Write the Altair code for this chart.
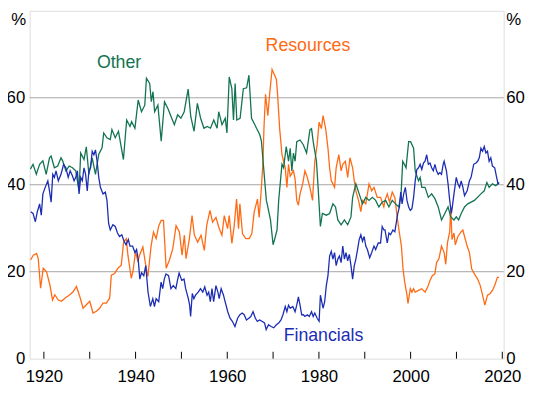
import altair as alt
import pandas as pd

# ---------------- data ----------------
other_year = [1917.06, 1917.63, 1918.35, 1919.07, 1919.78, 1920.50, 1921.22, 1921.58, 1922.29, 1923.01,
              1923.73, 1924.09, 1924.80, 1925.52, 1926.24, 1926.95, 1927.67, 1928.03, 1928.75, 1929.25,
              1929.82, 1930.54, 1931.25, 1931.97, 1932.69, 1933.05, 1933.76, 1934.48, 1934.84, 1935.56,
              1936.27, 1937.35, 1938.06, 1938.78, 1939.14, 1939.86, 1940.57, 1941.29, 1942.01, 1942.37,
              1943.08, 1943.44, 1943.80, 1944.16, 1944.87, 1945.59, 1946.31, 1947.03, 1947.74, 1948.46,
              1949.18, 1949.89, 1950.61, 1951.47, 1952.04, 1952.76, 1953.48, 1954.19, 1954.91, 1955.63,
              1956.34, 1957.06, 1957.78, 1958.14, 1958.85, 1959.57, 1959.93, 1960.43, 1961.00, 1961.36,
              1961.72, 1962.08, 1962.80, 1963.51, 1964.23, 1964.73, 1965.30, 1966.02, 1966.38, 1967.10,
              1967.46, 1967.81, 1968.53, 1968.71, 1969.43, 1970.00, 1970.50, 1970.86, 1971.22, 1971.94,
              1972.29, 1972.87, 1973.37, 1973.73, 1974.09, 1974.44, 1974.80, 1975.16, 1975.88, 1976.59,
              1977.31, 1978.03, 1978.39, 1978.75, 1979.46, 1979.82, 1980.32, 1980.75, 1981.61, 1982.33,
              1983.05, 1983.62, 1984.12, 1984.84, 1985.56, 1986.27, 1986.99, 1987.35, 1988.06, 1988.78,
              1989.50, 1990.22, 1990.93, 1991.65, 1992.37, 1993.08, 1993.80, 1994.55, 1995.27, 1995.99,
              1996.70, 1997.42, 1997.92, 1998.28, 1998.64, 1999.00, 1999.57, 2000.00, 2000.65, 2001.00,
              2001.72, 2002.08, 2002.44, 2003.15, 2003.87, 2004.59, 2005.30, 2006.02, 2006.74, 2007.46,
              2008.17, 2008.75, 2009.46, 2009.96, 2010.47, 2011.04, 2011.76, 2012.47, 2013.91, 2015.34,
              2016.06, 2016.63, 2017.13, 2017.85, 2018.57, 2019.28]
other_val = [43.6, 44.7, 42.4, 44.7, 45.5, 42.4, 46.2, 46.6, 43.9, 44.3,
             46.2, 45.5, 43.2, 44.3, 43.9, 43.2, 38.6, 47.3, 45.8, 48.7,
             42.4, 46.2, 42.4, 47.0, 48.5, 51.9, 50.8, 50.4, 52.7, 50.8,
             52.3, 45.8, 54.9, 53.4, 54.5, 53.0, 59.5, 56.8, 58.3, 64.5,
             63.3, 59.1, 61.4, 56.8, 58.3, 50.0, 59.1, 57.6, 55.7, 53.8,
             56.1, 55.3, 56.8, 62.0, 55.7, 52.3, 58.7, 55.3, 53.0, 53.4,
             53.0, 54.9, 53.0, 56.8, 53.8, 55.3, 51.9, 64.8, 62.1, 54.9,
             63.3, 54.9, 55.3, 62.1, 62.3, 65.2, 55.3, 53.8, 53.0, 51.5,
             50.0, 45.5, 36.4, 35.6, 31.9, 26.2, 28.1, 29.6, 36.4, 44.7,
             43.9, 48.8, 45.4, 48.4, 43.2, 47.3, 45.4, 49.9, 50.3, 49.2,
             47.3, 52.6, 52.9, 49.9, 45.4, 39.4, 30.4, 33.4, 33.0, 33.4,
             35.6, 34.9, 31.9, 30.8, 31.9, 30.8, 32.6, 37.1, 40.2, 37.9,
             35.6, 37.1, 36.4, 37.1, 36.4, 34.9, 36.0, 36.4, 34.9, 36.4,
             35.6, 34.9, 37.9, 45.4, 44.7, 43.9, 49.9, 49.9, 48.4, 43.2,
             40.9, 41.7, 39.4, 39.4, 37.1, 37.9, 36.8, 34.9, 31.9, 33.4,
             34.9, 32.6, 31.9, 32.6, 31.9, 33.4, 34.9, 35.6, 36.4, 37.9,
             38.6, 40.5, 39.4, 40.2, 39.8, 40.5]

res_year = [1917.10, 1917.68, 1918.41, 1918.77, 1919.28, 1919.86, 1920.58, 1921.30, 1921.88, 1922.39,
            1923.12, 1923.84, 1924.57, 1925.65, 1926.38, 1927.10, 1927.83, 1928.55, 1929.28, 1930.00,
            1930.72, 1931.45, 1932.17, 1932.90, 1933.62, 1934.35, 1934.71, 1935.43, 1936.16, 1936.88,
            1937.39, 1937.97, 1938.33, 1939.06, 1939.42, 1940.00, 1940.51, 1940.87, 1941.59, 1942.32,
            1942.68, 1943.41, 1943.91, 1944.49, 1945.07, 1945.58, 1946.09, 1946.67, 1947.39, 1948.12,
            1948.84, 1949.57, 1950.14, 1950.65, 1951.01, 1951.74, 1952.32, 1952.83, 1953.55, 1954.28,
            1955.00, 1955.51, 1956.23, 1956.81, 1957.54, 1958.26, 1958.84, 1959.35, 1960.07, 1960.43,
            1961.01, 1961.52, 1962.03, 1962.46, 1962.75, 1963.33, 1964.06, 1964.78, 1965.36, 1965.87,
            1966.59, 1966.96, 1967.40, 1967.80, 1968.00, 1968.35, 1968.85, 1969.28, 1969.78, 1970.29,
            1970.72, 1971.00, 1971.43, 1971.94, 1972.29, 1972.65, 1973.01, 1973.37, 1973.73, 1974.44,
            1974.80, 1975.16, 1975.52, 1975.88, 1976.45, 1976.95, 1977.46, 1978.03, 1978.60, 1979.10,
            1979.61, 1980.04, 1980.54, 1980.90, 1981.47, 1981.97, 1982.33, 1982.69, 1983.05, 1983.41,
            1983.76, 1984.34, 1984.84, 1985.20, 1985.77, 1986.27, 1986.77, 1987.35, 1987.71, 1988.06,
            1988.64, 1989.14, 1989.50, 1990.22, 1990.93, 1991.51, 1992.01, 1992.72, 1993.44, 1994.16,
            1994.41, 1994.91, 1995.41, 1995.99, 1996.56, 1997.06, 1997.56, 1997.99, 1998.35, 1998.71,
            1999.21, 1999.43, 1999.93, 2000.29, 2000.65, 2001.00, 2001.72, 2002.44, 2003.15, 2003.73,
            2004.23, 2004.73, 2005.30, 2005.66, 2006.16, 2006.74, 2007.31, 2007.67, 2008.03, 2008.53,
            2008.75, 2009.03, 2009.46, 2009.75, 2010.32, 2011.04, 2011.40, 2011.76, 2012.33, 2012.83,
            2013.33, 2013.91, 2014.62, 2015.20, 2015.70, 2016.20, 2016.77, 2017.35, 2017.85, 2018.35,
            2018.92, 2019.28]
res_val = [22.7, 23.8, 24.2, 23.0, 16.2, 20.8, 20.0, 17.0, 13.5, 14.7,
           13.5, 13.2, 13.9, 14.7, 15.4, 16.6, 14.3, 11.6, 12.4, 13.2,
           10.5, 10.9, 11.6, 12.8, 12.8, 13.9, 19.2, 19.6, 20.8, 21.5,
           26.8, 27.6, 23.8, 18.5, 20.0, 24.6, 22.3, 23.8, 25.7, 20.8,
           18.9, 26.1, 29.1, 27.6, 30.6, 31.8, 31.8, 20.8, 22.7, 25.3,
           30.6, 29.1, 23.8, 28.4, 23.0, 27.6, 32.9, 28.4, 26.8, 28.4,
           24.9, 30.6, 34.1, 31.4, 32.5, 29.9, 28.4, 32.9, 29.9, 32.9,
           26.5, 30.6, 36.7, 29.9, 35.6, 28.7, 27.6, 27.6, 28.7, 33.7,
           36.7, 32.5, 38.5, 45.4, 52.9, 60.8, 55.9, 61.2, 66.5, 65.3,
           64.2, 60.5, 52.9, 46.9, 45.4, 43.9, 39.4, 44.7, 42.0, 43.2,
           41.3, 36.4, 35.3, 37.9, 40.2, 43.2, 41.7, 39.4, 36.4, 45.4,
           49.2, 54.4, 52.9, 55.9, 52.9, 48.4, 43.9, 40.9, 40.2, 39.4,
           43.9, 46.9, 43.2, 44.7, 45.4, 41.7, 46.2, 43.9, 40.9, 38.6,
           36.4, 33.8, 36.4, 35.6, 40.2, 38.6, 39.4, 37.1, 37.1, 34.9,
           36.4, 37.9, 36.0, 38.3, 37.1, 32.6, 28.9, 25.9, 20.6, 17.6,
           14.6, 12.7, 16.1, 15.3, 16.1, 15.3, 15.7, 16.1, 15.3, 16.5,
           18.0, 19.1, 19.5, 22.1, 22.9, 25.9, 24.4, 21.7, 26.6, 29.2,
           34.9, 27.4, 28.9, 26.2, 28.1, 29.2, 29.6, 28.1, 25.9, 24.4,
           20.6, 19.5, 18.3, 16.8, 14.6, 12.3, 14.6, 15.0, 15.7, 16.8,
           18.7, 18.7]

fin_year = [1917.13, 1917.63, 1918.14, 1918.57, 1919.07, 1919.43, 1919.78, 1920.29, 1920.86, 1921.22,
            1921.58, 1921.94, 1922.29, 1922.65, 1923.15, 1923.73, 1924.30, 1924.80, 1925.30, 1925.73,
            1926.24, 1926.59, 1926.95, 1927.31, 1927.67, 1928.03, 1928.39, 1928.75, 1929.10, 1929.46,
            1929.82, 1930.18, 1930.54, 1930.90, 1931.25, 1931.61, 1931.97, 1932.33, 1932.90, 1933.41,
            1933.76, 1934.12, 1934.48, 1935.05, 1935.56, 1936.06, 1936.49, 1936.99, 1937.49, 1937.92,
            1938.42, 1938.78, 1939.35, 1939.86, 1940.22, 1940.57, 1940.93, 1941.29, 1941.79, 1942.22,
            1942.72, 1943.23, 1943.76, 1944.12, 1944.48, 1945.05, 1945.56, 1945.91, 1946.27, 1946.63,
            1947.20, 1947.71, 1948.21, 1948.78, 1949.14, 1949.50, 1950.07, 1950.57, 1950.93, 1951.51,
            1951.79, 1952.01, 1952.37, 1952.72, 1953.08, 1953.66, 1954.16, 1954.66, 1955.09, 1955.59,
            1955.95, 1956.31, 1956.67, 1957.03, 1957.53, 1957.96, 1958.24, 1958.67, 1959.18, 1959.53,
            1960.11, 1960.61, 1961.11, 1961.68, 1962.26, 1962.76, 1963.26, 1963.69, 1964.19, 1964.70,
            1965.13, 1965.63, 1966.13, 1966.56, 1967.06, 1967.56, 1968.14, 1968.49, 1969.00, 1969.57,
            1970.14, 1970.72, 1971.22, 1971.72, 1972.15, 1972.65, 1973.01, 1973.37, 1973.73, 1974.30,
            1974.80, 1975.16, 1975.52, 1975.88, 1976.24, 1976.59, 1976.95, 1977.46, 1977.89, 1978.39,
            1978.75, 1979.10, 1979.61, 1980.04, 1980.32, 1980.90, 1981.25, 1981.61, 1981.97, 1982.33,
            1982.69, 1983.05, 1983.41, 1983.76, 1984.12, 1984.48, 1984.84, 1985.20, 1985.56, 1985.91,
            1986.27, 1986.63, 1986.99, 1987.35, 1987.71, 1988.06, 1988.42, 1988.78, 1989.14, 1989.50,
            1989.86, 1990.22, 1990.57, 1991.08, 1991.51, 1992.01, 1992.37, 1992.94, 1993.44, 1993.80,
            1994.16, 1994.41, 1994.91, 1995.27, 1995.63, 1996.13, 1996.56, 1996.85, 1997.20, 1997.56,
            1997.85, 1998.14, 1998.49, 1998.85, 1999.21, 1999.57, 1999.93, 2000.29, 2000.65, 2001.00,
            2001.36, 2001.72, 2002.08, 2002.44, 2002.80, 2003.15, 2003.51, 2003.87, 2004.23, 2004.59,
            2004.95, 2005.30, 2005.66, 2006.02, 2006.38, 2006.74, 2007.10, 2007.31, 2007.81, 2008.17,
            2008.53, 2008.89, 2009.10, 2009.46, 2009.96, 2010.32, 2010.68, 2011.04, 2011.40, 2011.76,
            2012.33, 2012.83, 2013.19, 2013.76, 2014.27, 2014.62, 2014.98, 2015.34, 2015.70, 2016.06,
            2016.42, 2016.77, 2017.13, 2017.49, 2017.85, 2018.35, 2018.71, 2019.07, 2019.28]
fin_val = [33.8, 33.4, 31.5, 33.8, 35.6, 33.0, 37.9, 39.4, 40.9, 38.6,
           36.0, 42.4, 41.7, 43.2, 40.9, 42.4, 44.7, 43.9, 41.7, 43.2,
           42.0, 40.9, 41.7, 43.2, 37.9, 41.7, 40.9, 43.9, 42.4, 38.6,
           43.2, 43.9, 47.7, 46.9, 48.0, 45.4, 41.7, 39.4, 37.9, 38.3,
           36.4, 31.1, 29.6, 30.8, 30.4, 28.9, 28.1, 28.5, 27.0, 26.2,
           27.4, 25.9, 25.9, 24.4, 25.1, 22.9, 18.3, 19.8, 19.1, 21.4,
           15.3, 12.0, 13.8, 12.0, 13.8, 13.1, 17.6, 16.1, 18.3, 19.5,
           19.1, 16.1, 16.8, 16.1, 18.0, 19.7, 18.0, 18.3, 16.1, 13.8,
           12.3, 9.7, 15.0, 13.8, 14.6, 15.3, 16.1, 15.3, 16.5, 14.6,
           15.3, 13.1, 16.1, 13.1, 16.8, 15.3, 13.8, 16.1, 14.6, 13.1,
           10.8, 9.3, 8.6, 7.4, 9.3, 10.1, 10.5, 10.1, 8.9, 9.3,
           9.7, 10.8, 9.3, 8.6, 8.9, 8.6, 8.2, 6.7, 7.8, 7.4,
           7.1, 7.8, 8.2, 8.9, 10.1, 12.0, 10.8, 12.3, 11.6, 12.0,
           10.8, 12.3, 14.2, 12.3, 10.1, 10.1, 9.7, 10.1, 9.7, 10.8,
           9.7, 10.5, 9.3, 8.6, 14.6, 11.6, 13.1, 16.8, 19.1, 23.6,
           24.7, 22.9, 24.4, 21.4, 22.9, 23.6, 22.1, 25.9, 22.9, 24.4,
           22.5, 24.0, 21.4, 18.3, 21.4, 22.9, 25.1, 27.4, 28.5, 27.0,
           28.1, 25.9, 25.1, 23.2, 24.4, 25.9, 25.1, 26.6, 26.6, 30.4,
           29.6, 29.6, 26.6, 28.9, 28.5, 29.6, 29.2, 31.1, 33.4, 34.9,
           38.3, 35.6, 37.9, 39.4, 36.4, 34.9, 34.1, 34.5, 37.1, 40.9,
           43.5, 43.9, 44.7, 43.5, 45.0, 45.4, 46.9, 44.7, 45.0, 43.9,
           43.2, 44.7, 43.2, 42.4, 42.8, 42.4, 44.7, 45.4, 43.2, 40.2,
           36.4, 33.4, 34.9, 37.9, 41.7, 40.2, 39.4, 40.9, 39.4, 37.5,
           38.6, 40.9, 41.7, 44.7, 45.0, 45.4, 46.2, 48.4, 47.7, 48.8,
           47.3, 47.7, 45.4, 46.2, 44.3, 43.9, 42.0, 40.2, 40.5]

series_names = ["Resources", "Other", "Financials"]
series_colors = ["#ff6a13", "#127350", "#1c2db4"]

label_text = ["Other", "Resources", "Financials"]
label_year = [1936.4, 1977.6, 1981.0]
label_val = [68.0, 71.8, 5.2]

x_ticks = [1920, 1930, 1940, 1950, 1960, 1970, 1980, 1990, 2000, 2010, 2020]
x_labels = [1920, 1940, 1960, 1980, 2000, 2020]
y_labels = [0, 20, 40, 60]
grid_vals = [20, 40, 60]

# ---------------- tables ----------------
lines_df = pd.concat([
    pd.DataFrame({"year": res_year, "value": res_val, "series": "Resources"}),
    pd.DataFrame({"year": other_year, "value": other_val, "series": "Other"}),
    pd.DataFrame({"year": fin_year, "value": fin_val, "series": "Financials"}),
], ignore_index=True)
labels_df = pd.DataFrame({"year": label_year, "value": label_val, "series": label_text})
ticks_df = pd.DataFrame({"year": x_ticks})
grid_df = pd.DataFrame({"value": grid_vals})

W, H = 481, 353
FONT = "Liberation Sans"

xscale = alt.Scale(domain=[1916.9, 2020.3], nice=False, zero=False)
yscale = alt.Scale(domain=[0, 80], nice=False, zero=False)
cscale = alt.Scale(domain=series_names, range=series_colors)

# one shared bottom axis definition, used identically by every layer with an x field
x_axis = alt.Axis(
    orient="bottom", values=x_labels, format="d", grid=False, ticks=False, tickSize=0, domain=False,
    labelPadding=10, labelFontSize=17, labelFont=FONT, labelColor="black",
    labelFlush=False, labelOverlap=False, title=None)

grid = alt.Chart(grid_df).mark_rule(color="#a6a6a6", strokeWidth=1).encode(
    x=alt.value(0), x2=alt.value(W),
    y=alt.Y("value:Q", scale=yscale, axis=alt.Axis(
        orient="right", values=y_labels, grid=False, ticks=False, tickSize=0, domain=False,
        labelPadding=2, labelFontSize=17, labelFont=FONT, labelColor="black",
        title="%", titleAngle=0, titleX=2, titleY=1, titleAlign="left", titleBaseline="top",
        titleFontSize=17, titleFont=FONT, titleFontWeight="normal", titleColor="black")),
)

lines = alt.Chart(lines_df).mark_line(strokeWidth=1.3).encode(
    x=alt.X("year:Q", scale=xscale, axis=x_axis),
    y=alt.Y("value:Q", scale=yscale, axis=alt.Axis(
        orient="left", values=y_labels, grid=False, ticks=False, tickSize=0, domain=False,
        labelPadding=5, labelFontSize=17, labelFont=FONT, labelColor="black",
        title="%", titleAngle=0, titleX=-4, titleY=1, titleAlign="right", titleBaseline="top",
        titleFontSize=17, titleFont=FONT, titleFontWeight="normal", titleColor="black")),
    color=alt.Color("series:N", scale=cscale, legend=None),
    detail="series:N",
    order="year:Q",
)

ticks = alt.Chart(ticks_df).mark_rule(color="black", strokeWidth=1).encode(
    x=alt.X("year:Q", scale=xscale, axis=x_axis),
    y=alt.value(H), y2=alt.value(H - 7),
)

labels = alt.Chart(labels_df).mark_text(fontSize=18, font=FONT, align="center", baseline="middle").encode(
    x=alt.X("year:Q", scale=xscale, axis=x_axis),
    y=alt.Y("value:Q", scale=yscale, axis=None),
    text="series:N",
    color=alt.Color("series:N", scale=cscale, legend=None),
)

chart = alt.layer(grid, lines, ticks, labels).resolve_axis(y="independent").properties(
    width=W, height=H,
    autosize=alt.AutoSizeParams(type="none"),
    padding={"left": 22, "top": 0, "right": 46, "bottom": 34},
).configure_view(stroke="black", strokeWidth=1.3).configure(background="white")

chart.save("out.html", embed_options={"renderer": "svg", "actions": False})
